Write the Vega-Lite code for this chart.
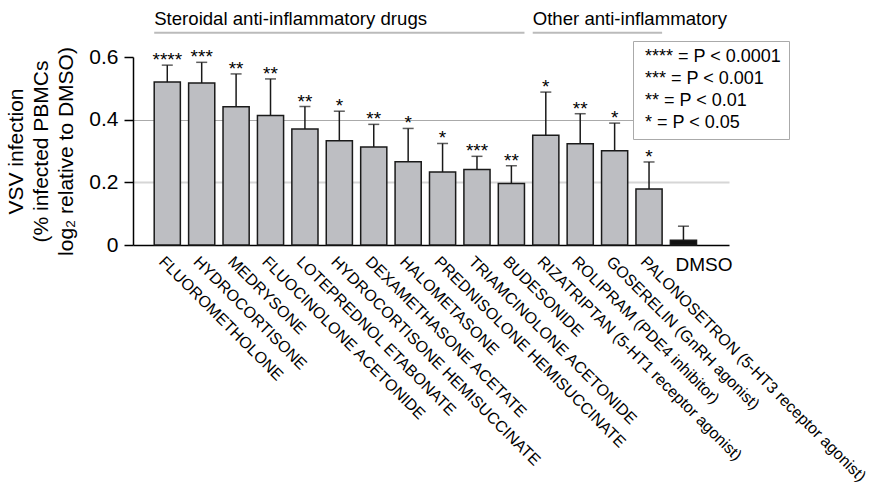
{
  "$schema": "https://vega.github.io/schema/vega-lite/v6.json",
  "width": 596,
  "height": 188,
  "padding": {"left": 5, "top": 9, "right": 0, "bottom": 0},
  "config": {
    "font": "Liberation Sans",
    "view": {"stroke": null},
    "text": {"font": "Liberation Sans"}
  },
  "datasets": {
    "drugs": [
      {"drug": "FLUOROMETHOLONE", "value": 0.520, "err": 0.574, "stars": "****"},
      {"drug": "HYDROCORTISONE", "value": 0.517, "err": 0.583, "stars": "***"},
      {"drug": "MEDRYSONE", "value": 0.441, "err": 0.546, "stars": "**"},
      {"drug": "FLUOCINOLONE ACETONIDE", "value": 0.413, "err": 0.530, "stars": "**"},
      {"drug": "LOTEPREDNOL ETABONATE", "value": 0.370, "err": 0.442, "stars": "**"},
      {"drug": "HYDROCORTISONE HEMISUCCINATE", "value": 0.333, "err": 0.427, "stars": "*"},
      {"drug": "DEXAMETHASONE ACETATE", "value": 0.313, "err": 0.385, "stars": "**"},
      {"drug": "HALOMETASONE", "value": 0.266, "err": 0.372, "stars": "*"},
      {"drug": "PREDNISOLONE HEMISUCCINATE", "value": 0.233, "err": 0.324, "stars": "*"},
      {"drug": "TRIAMCINOLONE ACETONIDE", "value": 0.241, "err": 0.283, "stars": "***"},
      {"drug": "BUDESONIDE", "value": 0.196, "err": 0.253, "stars": "**"},
      {"drug": "RIZATRIPTAN (5-HT1 receptor agonist)", "value": 0.350, "err": 0.488, "stars": "*"},
      {"drug": "ROLIPRAM (PDE4 inhibitor)", "value": 0.323, "err": 0.419, "stars": "**"},
      {"drug": "GOSERELIN (GnRH agonist)", "value": 0.301, "err": 0.389, "stars": "*"},
      {"drug": "PALONOSETRON (5-HT3 receptor agonist)", "value": 0.179, "err": 0.265, "stars": "*"},
      {"drug": "DMSO", "value": 0.015, "err": 0.060, "stars": ""}
    ],
    "groups": [
      {"group": "Steroidal anti-inflammatory drugs", "start": "FLUOROMETHOLONE", "end": "BUDESONIDE"},
      {"group": "Other anti-inflammatory", "start": "RIZATRIPTAN (5-HT1 receptor agonist)", "end": "PALONOSETRON (5-HT3 receptor agonist)"}
    ]
  },
  "layer": [
    {
      "data": {"name": "drugs"},
      "mark": {"type": "bar", "stroke": "#1a1a1a", "strokeWidth": 1.5},
      "encoding": {
        "x": {
          "field": "drug", "type": "nominal",
          "scale": {
            "domain": ["FLUOROMETHOLONE", "HYDROCORTISONE", "MEDRYSONE", "FLUOCINOLONE ACETONIDE", "LOTEPREDNOL ETABONATE", "HYDROCORTISONE HEMISUCCINATE", "DEXAMETHASONE ACETATE", "HALOMETASONE", "PREDNISOLONE HEMISUCCINATE", "TRIAMCINOLONE ACETONIDE", "BUDESONIDE", "RIZATRIPTAN (5-HT1 receptor agonist)", "ROLIPRAM (PDE4 inhibitor)", "GOSERELIN (GnRH agonist)", "PALONOSETRON (5-HT3 receptor agonist)", "DMSO"],
            "paddingInner": 0.24, "paddingOuter": 0.78, "align": 0.395
          },
          "axis": {
            "title": null, "ticks": false, "domainColor": "black", "domainWidth": 1.5,
            "labelAngle": 45, "labelAlign": "left", "labelBaseline": "top",
            "labelFontSize": 16, "labelColor": "black", "labelPadding": 8,
            "labelLimit": 400, "labelOverlap": false,
            "labelExpr": "datum.value == 'DMSO' ? '' : datum.value"
          }
        },
        "y": {
          "field": "value", "type": "quantitative",
          "scale": {"domain": [0, 0.6], "nice": false, "zero": true},
          "axis": {
            "values": [0, 0.2, 0.4, 0.6],
            "title": ["VSV infection", "(% infected PBMCs", "log₂ relative to DMSO)"],
            "titleFontSize": 21, "titleFontWeight": "normal", "titleLineHeight": 25,
            "titlePadding": 12, "titleColor": "black",
            "labelFontSize": 21, "labelColor": "black", "labelPadding": 6,
            "labelExpr": "datum.value == 0 ? '0' : format(datum.value, '.1f')",
            "tickSize": 9, "tickWidth": 1.5, "tickColor": "black",
            "domainColor": "black", "domainWidth": 1.5,
            "grid": true,
            "gridColor": {"condition": {"test": "datum.value == 0.4", "value": "#aaaaaa"}, "value": "#d6d6d6"},
            "gridWidth": {"condition": {"test": "datum.value == 0.2", "value": 2}, "value": 1},
            "gridOpacity": {"condition": {"test": "datum.value == 0.2 || datum.value == 0.4", "value": 1}, "value": 0}
          }
        },
        "fill": {"condition": {"test": "datum.drug == 'DMSO'", "value": "#111111"}, "value": "#bdbec2"}
      }
    },
    {
      "data": {"name": "drugs"},
      "mark": {"type": "rule", "color": "#1a1a1a", "strokeWidth": 1.5},
      "encoding": {
        "x": {"field": "drug", "type": "nominal"},
        "y": {"field": "value", "type": "quantitative"},
        "y2": {"field": "err"}
      }
    },
    {
      "data": {"name": "drugs"},
      "mark": {"type": "tick", "size": 11, "thickness": 1.5, "color": "#1a1a1a"},
      "encoding": {
        "x": {"field": "drug", "type": "nominal"},
        "y": {"field": "err", "type": "quantitative"}
      }
    },
    {
      "data": {"name": "drugs"},
      "transform": [{"filter": "datum.stars != ''"}],
      "mark": {"type": "text", "fontSize": 19, "baseline": "alphabetic", "dy": 1},
      "encoding": {
        "x": {"field": "drug", "type": "nominal"},
        "y": {"field": "err", "type": "quantitative"},
        "text": {"field": "stars"},
        "color": {
          "field": "stars", "type": "nominal",
          "scale": {"domain": ["****", "***", "**", "*"], "range": ["black", "black", "black", "black"]},
          "legend": {
            "orient": "none", "legendX": 500, "legendY": -16, "title": null,
            "labelExpr": "datum.label == '****' ? '**** = P < 0.0001' : datum.label == '***' ? '*** = P < 0.001' : datum.label == '**' ? '** = P < 0.01' : '* = P < 0.05'",
            "labelFontSize": 18, "labelColor": "black", "labelFont": "Liberation Sans",
            "symbolSize": 1, "symbolStrokeWidth": 0, "symbolOpacity": 0, "labelOffset": -13,
            "strokeColor": "#aaaaaa", "fillColor": "white", "padding": 7, "rowPadding": 4
          }
        }
      }
    },
    {
      "data": {"name": "groups"},
      "mark": {"type": "rule", "color": "#bbbbbb", "strokeWidth": 2},
      "encoding": {
        "x": {"field": "start", "type": "nominal", "bandPosition": 0},
        "x2": {"field": "end", "bandPosition": 1},
        "y": {"datum": 0.677, "type": "quantitative"}
      }
    },
    {
      "data": {"name": "groups"},
      "mark": {"type": "text", "fontSize": 18.6, "align": "left", "baseline": "middle", "color": "black"},
      "encoding": {
        "x": {"field": "start", "type": "nominal", "bandPosition": 0},
        "y": {"datum": 0.722, "type": "quantitative"},
        "text": {"field": "group"}
      }
    },
    {
      "data": {"name": "drugs"},
      "transform": [{"filter": "datum.drug == 'DMSO'"}],
      "mark": {"type": "text", "fontSize": 19, "align": "left", "baseline": "top", "dx": -8, "dy": 11, "color": "black"},
      "encoding": {
        "x": {"field": "drug", "type": "nominal"},
        "y": {"datum": 0, "type": "quantitative"},
        "text": {"field": "drug"}
      }
    }
  ]
}
